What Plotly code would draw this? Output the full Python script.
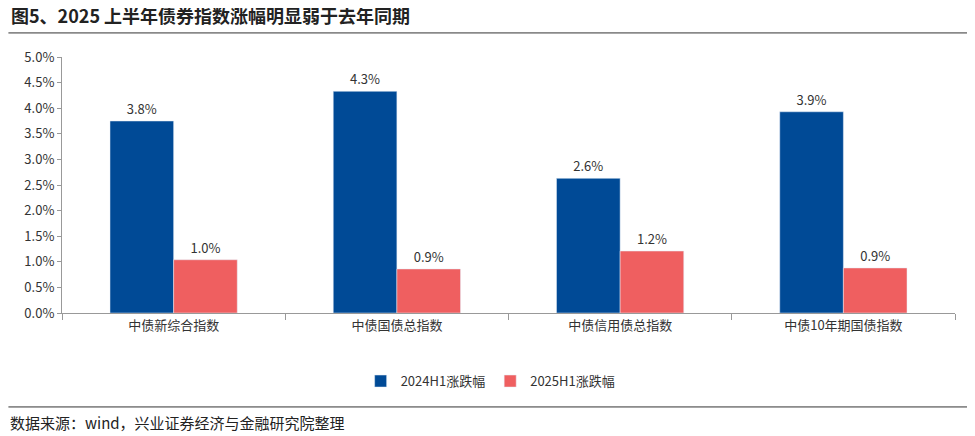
import plotly.graph_objects as go

categories = ["中债新综合指数", "中债国债总指数", "中债信用债总指数", "中债10年期国债指数"]
h1_2024 = [3.75, 4.33, 2.63, 3.93]
h1_2025 = [1.04, 0.86, 1.21, 0.88]
labels_2024 = ["3.8%", "4.3%", "2.6%", "3.9%"]
labels_2025 = ["1.0%", "0.9%", "1.2%", "0.9%"]

font = "Noto Sans CJK SC"
fig = go.Figure()
fig.add_trace(go.Bar(x=categories, y=h1_2024, name="2024H1涨跌幅", marker_color="#004A96",
                     text=labels_2024, textposition="outside", textfont=dict(size=13, color="#333")))
fig.add_trace(go.Bar(x=categories, y=h1_2025, name="2025H1涨跌幅", marker_color="#EF5F60",
                     text=labels_2025, textposition="outside", textfont=dict(size=13, color="#333")))

fig.update_layout(
    width=975, height=436, plot_bgcolor="white", paper_bgcolor="white",
    font=dict(family=font, size=13, color="#333"),
    margin=dict(l=54, r=28, t=49, b=131, autoexpand=False),
    barmode="group", bargap=0.43, bargroupgap=0,
    legend=dict(orientation="h", x=0.48, xanchor="center", y=-0.266, yanchor="middle",
                font=dict(size=13)),
    title=dict(text="<b>图5、2025 上半年债券指数涨幅明显弱于去年同期</b>", x=0.003, xanchor="left",
               y=0.98, yanchor="middle", font=dict(size=18, color="#222")),
    showlegend=True,
)
fig.update_yaxes(range=[0, 5], dtick=0.5, tickformat=".1f", ticksuffix="%", showgrid=False,
                 showline=True, linecolor="#999", ticks="outside", ticklen=4, tickcolor="#999",
                 tickfont=dict(size=13))
fig.update_xaxes(showline=True, linecolor="#999", ticks="outside", tickson="boundaries",
                 ticklen=6, tickcolor="#999", tickfont=dict(size=13))

fig.add_shape(type="line", xref="paper", yref="paper", x0=-0.06, x1=1.017, y0=1.094, y1=1.094,
              line=dict(color="#333", width=1))
fig.add_shape(type="line", xref="paper", yref="paper", x0=-0.06, x1=1.017, y0=-0.367, y1=-0.367,
              line=dict(color="#333", width=1))
fig.add_annotation(text="数据来源：wind，兴业证券经济与金融研究院整理", xref="paper", yref="paper",
                   x=-0.06, y=-0.426, xanchor="left", yanchor="middle", showarrow=False,
                   font=dict(size=15, color="#222"))

fig.write_html("out.html")
